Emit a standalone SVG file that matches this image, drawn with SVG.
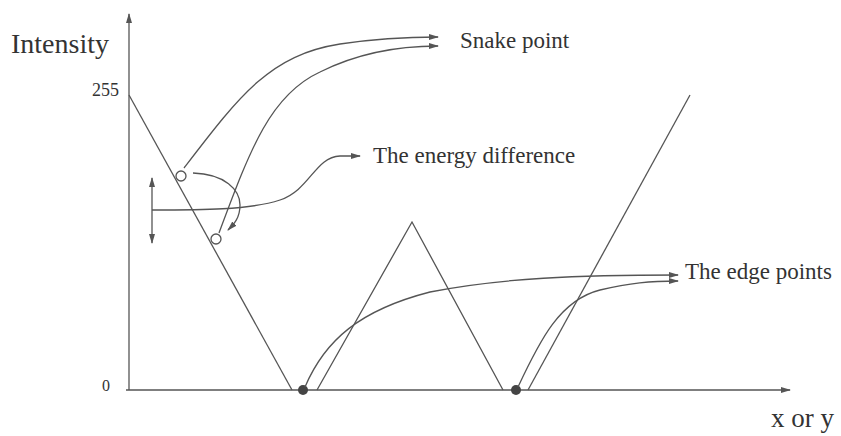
<svg xmlns="http://www.w3.org/2000/svg" width="841" height="436" viewBox="0 0 841 436">
<style>
.ln{fill:none;stroke:#555;stroke-width:1.3}
.t{font-family:"Liberation Serif",serif;fill:#333}
</style>
<defs>
<marker id="ah" markerWidth="10" markerHeight="6" refX="9" refY="3" orient="auto" markerUnits="userSpaceOnUse">
<path d="M0,0 L10,3 L0,6 Z" fill="#555"/>
</marker>
</defs>
<rect width="841" height="436" fill="#fff"/>
<g id="axes">
<line class="ln" x1="129" y1="390" x2="129" y2="14" marker-end="url(#ah)"/>
<line class="ln" x1="126" y1="390" x2="790" y2="390" marker-end="url(#ah)"/>
<text class="t" x="11" y="53" font-size="28">Intensity</text>
<text class="t" x="92" y="96" font-size="18">255</text>
<text class="t" x="102" y="391" font-size="16">0</text>
<text class="t" x="771" y="427" font-size="27">x or y</text>
</g>
<g id="profile">
<polyline class="ln" points="129,95 292,390"/>
<polyline class="ln" points="317,390 412,222 503,390"/>
<polyline class="ln" points="528,390 690,95"/>
</g>
<g id="snake-points">
<circle cx="181" cy="176" r="5" fill="#fff" stroke="#555" stroke-width="1.3"/>
<circle cx="216" cy="239" r="5" fill="#fff" stroke="#555" stroke-width="1.3"/>
</g>
<g id="edge-points">
<circle cx="303" cy="390" r="5" fill="#444"/>
<circle cx="516" cy="390" r="5" fill="#444"/>
</g>
<g id="connectors">
<path class="ln" d="M184,168 C240,95 270,55 340,44 C380,38 410,37 438,37" marker-end="url(#ah)"/>
<path class="ln" d="M219,233 C250,150 270,95 320,72 C360,52 400,46 438,46" marker-end="url(#ah)"/>
<path class="ln" d="M193,173 C225,174 240,190 240,205 C240,218 234,224 228,230" marker-end="url(#ah)"/>
<line class="ln" x1="152" y1="209" x2="152" y2="178" marker-end="url(#ah)"/>
<line class="ln" x1="152" y1="209" x2="152" y2="243" marker-end="url(#ah)"/>
<path class="ln" d="M152,210 C200,210 250,210 280,200 C310,190 315,157 340,156 L360,156" marker-end="url(#ah)"/>
<path class="ln" d="M305,387 C325,340 360,310 430,292 C500,278 580,275 678,275" marker-end="url(#ah)"/>
<path class="ln" d="M518,387 C540,340 560,300 600,290 C630,283 650,281 678,281" marker-end="url(#ah)"/>
</g>
<g id="labels">
<text class="t" x="460" y="48" font-size="23">Snake point</text>
<text class="t" x="373" y="163" font-size="23">The energy difference</text>
<text class="t" x="685" y="279" font-size="23">The edge points</text>
</g>
</svg>
